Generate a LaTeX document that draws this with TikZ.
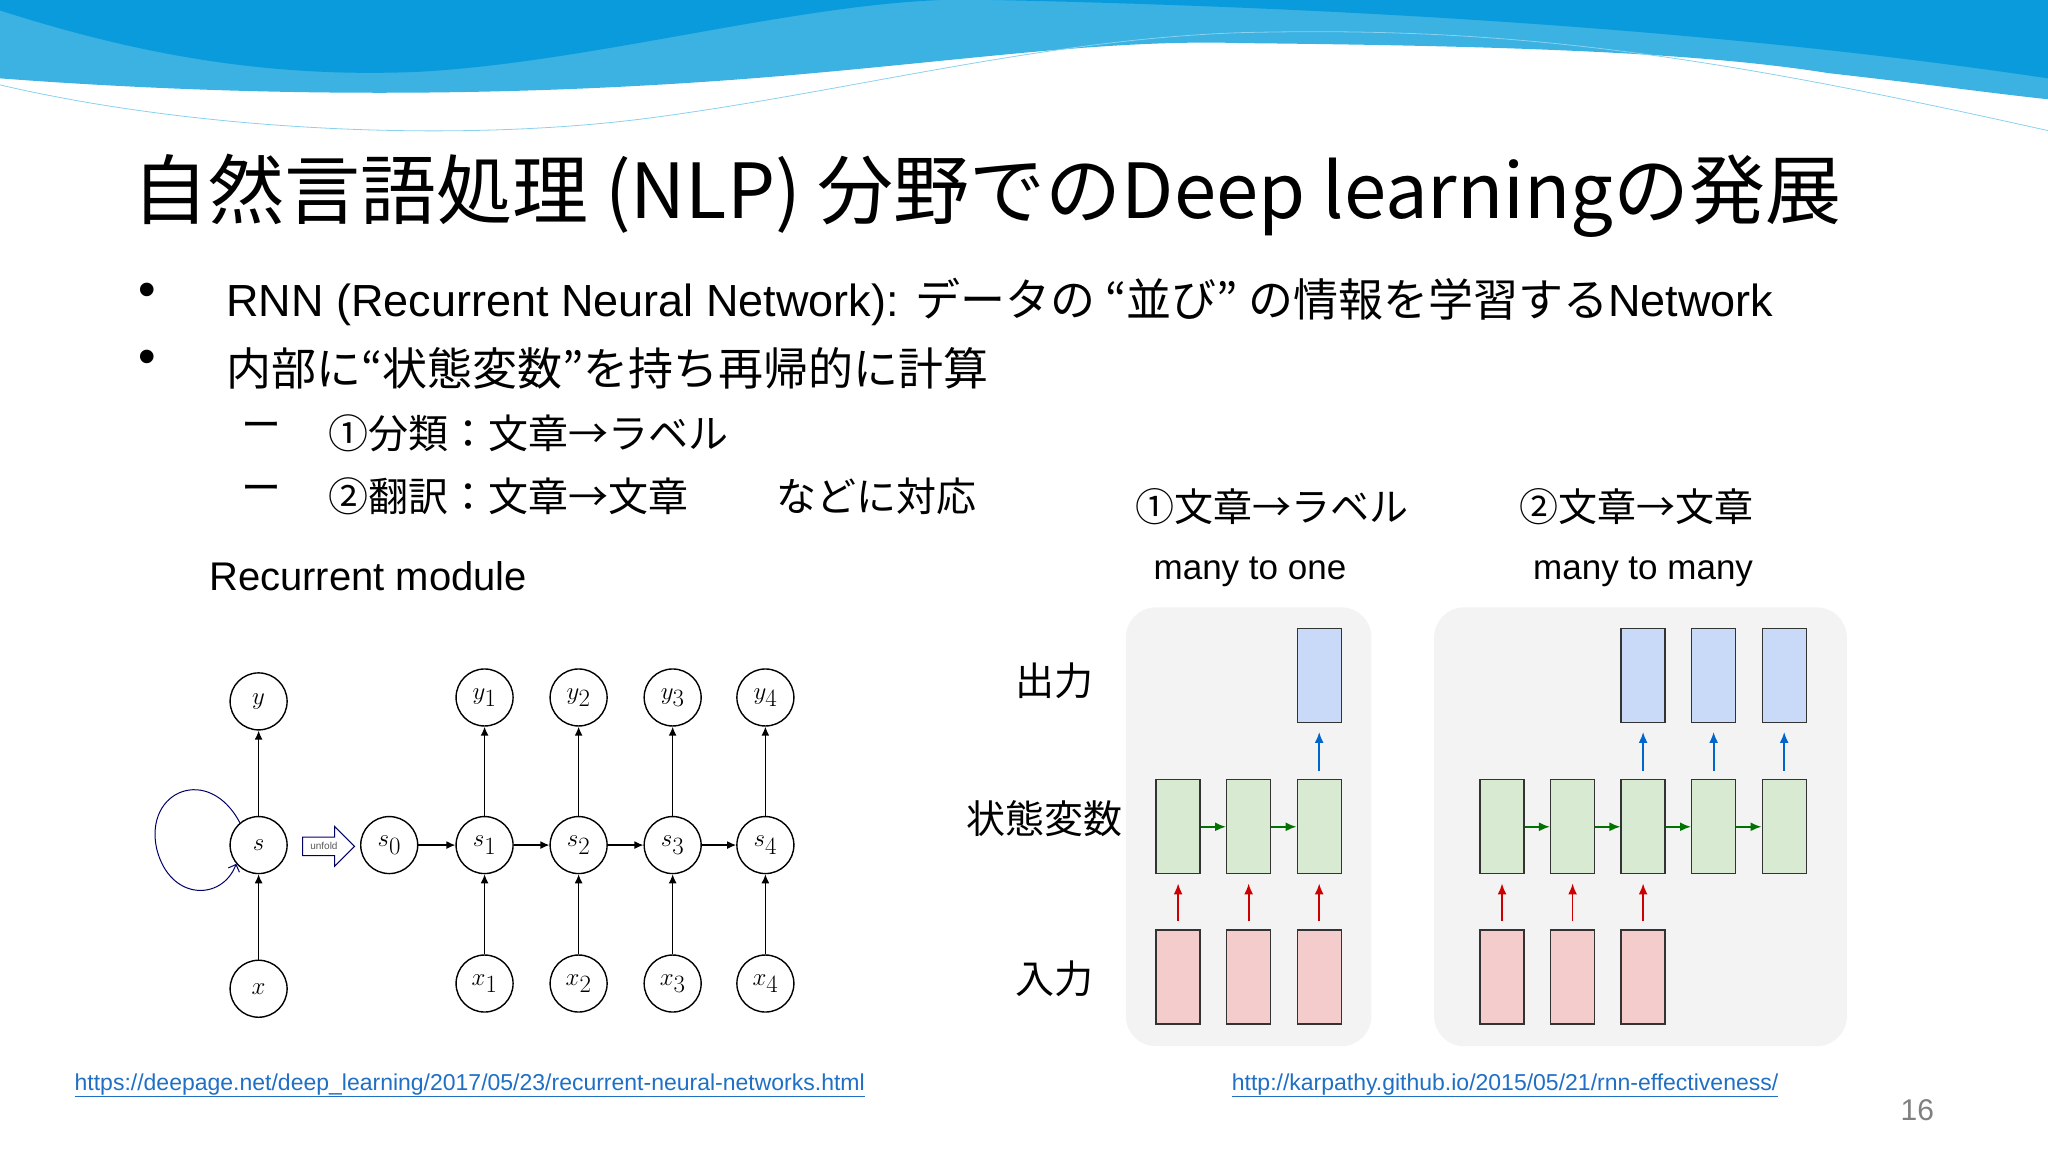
\documentclass[tikz,border=0pt]{standalone}
\usepackage{fontspec}
\setmainfont{Liberation Sans}
\newfontfamily\jp{Noto Sans CJK JP}
\usetikzlibrary{arrows.meta,shapes.arrows}
\definecolor{wdark}{HTML}{0A9BDC}
\definecolor{wlight}{HTML}{3BB2E2}
\definecolor{gfill}{HTML}{D9EAD3}
\definecolor{gdraw}{HTML}{333333}
\definecolor{bfill}{HTML}{C9DAF8}
\definecolor{rfill}{HTML}{F4CCCC}
\definecolor{panel}{HTML}{F3F3F3}
\definecolor{link}{HTML}{1F6FC5}
\tikzset{
 x=1.30612pt, y=-1.30612pt,
 rn/.style={circle, draw, line width=1.4pt, minimum size=57pt, inner sep=0pt, font=\fontsize{40}{40}\selectfont},
 ar/.style={-{Latex[length=9pt,width=8pt]}, line width=1.4pt},
 cell/.style={draw=gdraw, line width=1.3pt, minimum width=44pt, minimum height=94pt, inner sep=0pt},
 gcell/.style={cell, fill=gfill},
 bcell/.style={cell, fill=bfill},
 rcell/.style={cell, fill=rfill},
 rar/.style={-{Latex[length=11pt,width=9pt]}, line width=1.8pt, draw=red!80!black},
 bar/.style={-{Latex[length=11pt,width=9pt]}, line width=1.8pt, draw=blue!50!cyan!80!black},
 gar/.style={-{Latex[length=11pt,width=9pt]}, line width=1.8pt, draw=green!45!black},
 jt/.style={font=\jp\fontsize{45}{47}\selectfont, anchor=west, inner sep=0pt},
 st/.style={font=\jp\fontsize{40}{42}\selectfont, anchor=west, inner sep=0pt},
 lab/.style={font=\jp\fontsize{39}{41}\selectfont, inner sep=0pt},
 url/.style={font=\fontsize{23}{25}\selectfont, text=link, inner sep=0pt, anchor=west},
}
\begin{document}
\begin{tikzpicture}
\useasboundingbox (0,0) rectangle (1568,882);
% header waves
\fill[wlight] (0,0) -- (0,60) .. controls (200,75) and (400,75) .. (600,58) .. controls (750,45) and (850,30) .. (950,33) .. controls (1150,35) and (1300,40) .. (1400,56) .. controls (1480,65) and (1530,72) .. (1568,76) -- (1568,0) -- cycle;
\fill[wdark] (0,0) -- (0,8) .. controls (100,40) and (200,60) .. (320,55) .. controls (450,48) and (600,5) .. (720,0) -- cycle;
\fill[wdark] (760,0) .. controls (1000,5) and (1300,20) .. (1568,60) -- (1568,0) -- cycle;
\draw[wlight!60, line width=0.8pt] (0,65) .. controls (150,100) and (350,110) .. (500,90) .. controls (650,70) and (800,30) .. (950,25) .. controls (1150,20) and (1300,40) .. (1568,100);
% title
\node[jt, font=\jp\fontsize{76}{78}\selectfont] (title) at (101,150) {自然言語処理 (NLP) 分野でのDeep learningの発展};
% bullets
\node[jt, font=\fontsize{50}{50}\selectfont] (b1) at (106,226) {•};
\node[anchor=west, inner sep=0pt, font=\fontsize{45}{47}\selectfont] (t1) at (173,231) {RNN (Recurrent Neural Network): {\jp データの “並び” の情報を学習する}Network};
\node[jt, font=\fontsize{50}{50}\selectfont] (b2) at (106,277) {•};
\node[jt] (t2) at (173,282) {内部に“状態変数”を持ち再帰的に計算};
\node[st] (d1) at (185,330) {ー};
\node[st] (s1t) at (251,332) {①分類：文章→ラベル};
\node[st] (d2) at (185,378) {ー};
\node[st] (s2t) at (251,380) {②翻訳：文章→文章};
\node[st] (s3t) at (594,380) {などに対応};
\node[anchor=west, inner sep=0pt, font=\fontsize{40}{42}\selectfont] (rm) at (160,441) {Recurrent module};
% left RNN diagram
\node[rn] (y) at (198,537) {$y$};
\node[rn] (s) at (198,647) {$s$};
\node[rn] (x) at (198,757) {$x$};
\draw[ar] (x) -- (s);
\draw[ar] (s) -- (y);
\draw[blue!40!black, line width=1pt, -{Straight Barb[length=6pt]}] (s.130) .. controls (160,585) and (110,605) .. (120,650) .. controls (130,690) and (170,690) .. (s.220);
\node[single arrow, draw=blue!40!black, line width=1pt, minimum height=52pt, minimum width=40pt, single arrow head extend=6pt, inner sep=1pt, font=\fontsize{10}{10}\selectfont, text=gray!70!black] (unf) at (248,648) {unfold};
\node[rn] (s0) at (298,647) {$s_0$};
\foreach \i/\xx in {1/371,2/443,3/515,4/586}{
 \node[rn] (sn\i) at (\xx,647) {$s_\i$};
 \node[rn] (yn\i) at (\xx,534) {$y_\i$};
 \node[rn] (xn\i) at (\xx,753) {$x_\i$};
 \draw[ar] (sn\i) -- (yn\i);
 \draw[ar] (xn\i) -- (sn\i);
}
\draw[ar] (s0) -- (sn1);
\draw[ar] (sn1) -- (sn2);
\draw[ar] (sn2) -- (sn3);
\draw[ar] (sn3) -- (sn4);
% right diagram
\node[lab] (h1) at (974,388) {①文章→ラベル};
\node[lab] (h2) at (1253,388) {②文章→文章};
\node[font=\fontsize{35}{37}\selectfont, inner sep=0pt] (m1) at (957,438) {many to one};
\node[font=\fontsize{35}{37}\selectfont, inner sep=0pt] (m2) at (1258,438) {many to many};
\fill[panel, rounded corners=30pt] (862,465) rectangle (1050,801);
\fill[panel, rounded corners=30pt] (1098,465) rectangle (1414,801);
\node[lab] (out) at (807,521) {出力};
\node[lab] (st) at (800,627) {状態変数};
\node[lab] (in) at (807,749) {入力};
% panel 1
\foreach \i/\xx in {1/902,2/956,3/1010}{
 \node[gcell] (ga\i) at (\xx,633) {};
 \node[rcell] (ra\i) at (\xx,748) {};
 \draw[rar] ([yshift=8pt]ra\i.north) -- ([yshift=-9pt]ga\i.south);
}
\node[bcell] (ba3) at (1010,517) {};
\draw[bar] ([yshift=8pt]ga3.north) -- ([yshift=-9pt]ba3.south);
\draw[gar] (ga1) -- (ga2);
\draw[gar] (ga2) -- (ga3);
% panel 2
\foreach \i/\xx in {1/1150,2/1204,3/1258,4/1312,5/1366}{
 \node[gcell] (gb\i) at (\xx,633) {};
}
\foreach \i/\xx in {1/1150,2/1204,3/1258}{
 \node[rcell] (rb\i) at (\xx,748) {};
 \draw[rar] ([yshift=8pt]rb\i.north) -- ([yshift=-9pt]gb\i.south);
}
\foreach \i/\xx in {3/1258,4/1312,5/1366}{
 \node[bcell] (bb\i) at (\xx,517) {};
 \draw[bar] ([yshift=8pt]gb\i.north) -- ([yshift=-9pt]bb\i.south);
}
\draw[gar] (gb1) -- (gb2);
\draw[gar] (gb2) -- (gb3);
\draw[gar] (gb3) -- (gb4);
\draw[gar] (gb4) -- (gb5);
% urls
\node[url] (u1) at (57,831) {\underline{https://deepage.net/deep\_learning/2017/05/23/recurrent-neural-networks.html}};
\node[url] (u2) at (943,831) {\underline{http://karpathy.github.io/2015/05/21/rnn-effectiveness/}};
\node[font=\fontsize{30}{32}\selectfont, text=gray, inner sep=0pt] (pg) at (1468,850) {16};
\end{tikzpicture}
\end{document}
